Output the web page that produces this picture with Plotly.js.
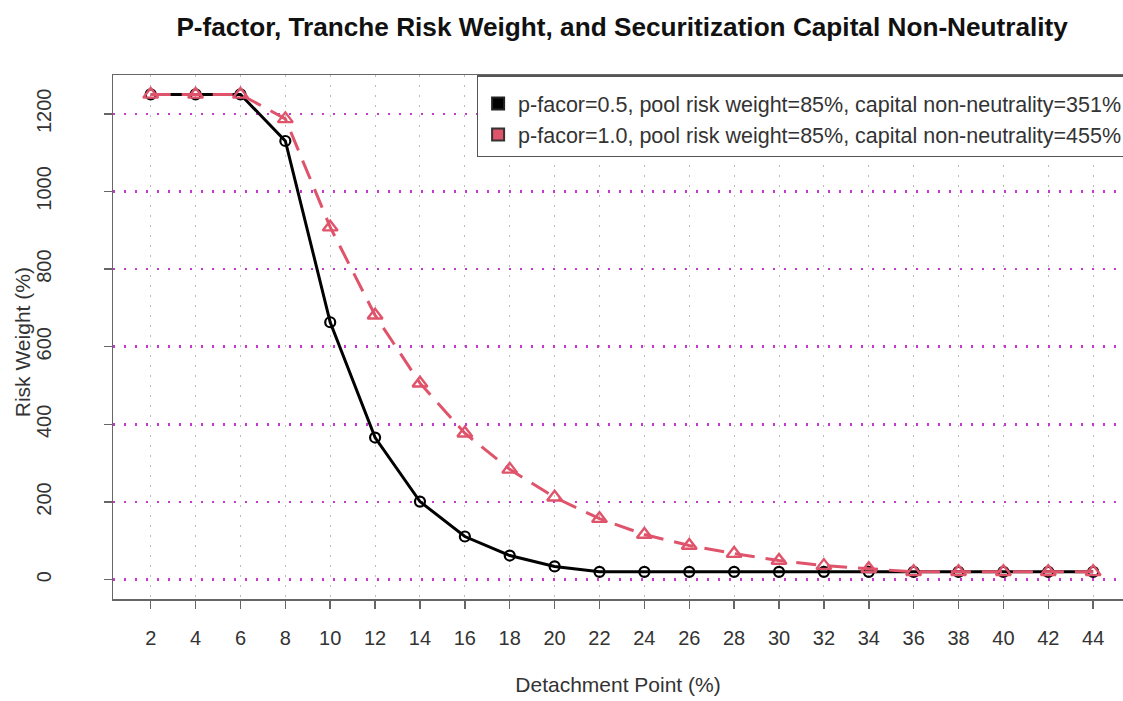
<!DOCTYPE html>
<html>
<head>
<meta charset="utf-8">
<script src="https://cdn.plot.ly/plotly-3.0.1.min.js"></script>
<style>html,body{margin:0;padding:0;background:#fff;}#chart{width:1123px;height:701px;}</style>
</head>
<body>
<div id="chart"></div>
<script>
const detachment = [2,4,6,8,10,12,14,16,18,20,22,24,26,28,30,32,34,36,38,40,42,44];
const rwP05 = [1250,1250,1250,1130,663,366,201,111,62,34,20,20,20,20,20,20,20,20,20,20,20,20];
const rwP10 = [1250,1250,1250,1187,908,681,506,377,284,212,157,116,88,67,49,36,28,20,20,20,20,20];
const legendLabels = [
  "p-facor=0.5, pool risk weight=85%, capital non-neutrality=351%",
  "p-facor=1.0, pool risk weight=85%, capital non-neutrality=455%"
];
const yTicks = [0,200,400,600,800,1000,1200];

const black = "#000000";
const red = "#DF536B";

const traces = [
  {x: detachment, y: rwP05, mode: "lines+markers", showlegend: false,
   line: {color: black, width: 3},
   marker: {symbol: "circle-open", size: 10, color: black, line: {width: 2.2, color: black}}},
  {x: detachment, y: rwP10, mode: "lines+markers", showlegend: false,
   line: {color: red, width: 3, dash: "20px,11px"},
   marker: {symbol: "triangle-up-open", size: 13, color: red, line: {width: 2.4, color: red}}},
  {x: [null], y: [null], mode: "markers", name: legendLabels[0],
   marker: {symbol: "square", size: 14, color: black, line: {width: 1, color: "#222"}}},
  {x: [null], y: [null], mode: "markers", name: legendLabels[1],
   marker: {symbol: "square", size: 14, color: red, line: {width: 1, color: "#333"}}}
];

const layout = {
  width: 1123, height: 701,
  margin: {l: 113, r: 0, t: 75, b: 102, autoexpand: false},
  paper_bgcolor: "#fff", plot_bgcolor: "#fff",
  font: {family: "Liberation Sans, Arial, sans-serif", size: 20, color: "#333"},
  title: {text: "<b>P-factor, Tranche Risk Weight, and Securitization Capital Non-Neutrality</b>",
          font: {size: 26.2, color: "#111"}, x: 0.554, xanchor: "center", y: 0.962, yanchor: "middle"},
  showlegend: true,
  legend: {x: 0.360, xanchor: "left", y: 1, yanchor: "top", bgcolor: "#fff",
           bordercolor: "#555", borderwidth: 1.5, font: {size: 21.5, color: "#333"},
           title: {text: " ", font: {size: 5}},
           tracegroupgap: 0, itemsizing: "constant"},
  annotations: [
    {text: "Risk Weight (%)", xref: "paper", yref: "paper", x: -0.0901, y: 0.49,
     xanchor: "center", yanchor: "middle", textangle: -90, showarrow: false,
     font: {size: 21, color: "#333"}}
  ],
  xaxis: {
    range: [0.32, 45.33], tickvals: detachment, ticktext: detachment.map(String),
    showline: true, linecolor: "#666", linewidth: 1.5, mirror: true,
    ticks: "outside", ticklen: 8, tickcolor: "#666", tickwidth: 1.5,
    ticklabelstandoff: 12,
    showgrid: true, gridcolor: "#bbbbbb", gridwidth: 1, griddash: "2px,8px",
    zeroline: false, tickfont: {size: 20, color: "#333"},
    title: {text: "Detachment Point (%)", font: {size: 21, color: "#333"}, standoff: 30}
  },
  yaxis: {
    range: [-50, 1300], tickvals: yTicks, ticktext: yTicks.map(String),
    showline: true, linecolor: "#666", linewidth: 1.5,
    ticks: "outside", ticklen: 8, tickcolor: "#666", tickwidth: 1.5,
    tickangle: -90, ticklabelstandoff: 45,
    showgrid: true, gridcolor: "#c838d0", gridwidth: 2.5, griddash: "2px,9px",
    zeroline: false, tickfont: {size: 20, color: "#333"}
  }
};

Plotly.newPlot("chart", traces, layout, {displayModeBar: false, staticPlot: true});
</script>
</body>
</html>
